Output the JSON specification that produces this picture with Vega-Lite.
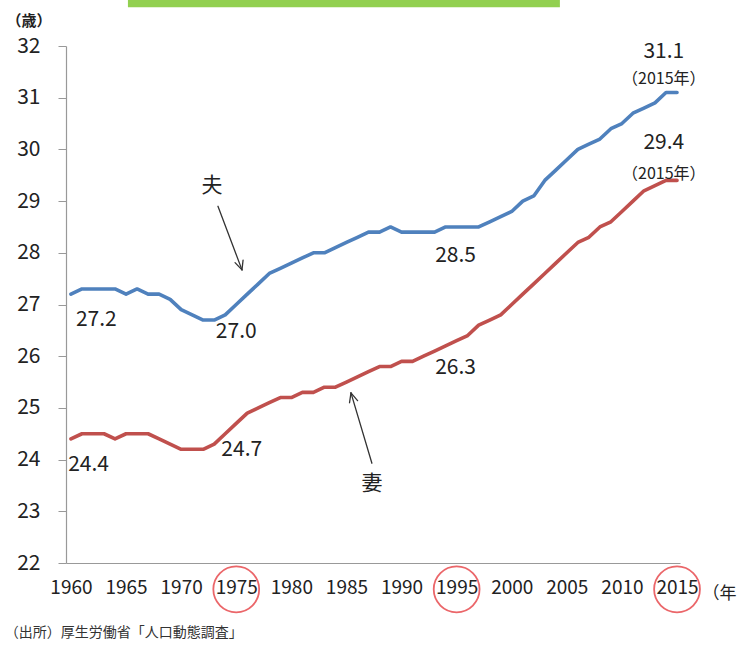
{
  "$schema": "https://vega.github.io/schema/vega-lite/v6.json",
  "width": 614,
  "height": 517,
  "autosize": "none",
  "padding": {"left": 66, "top": 46, "right": 67, "bottom": 84},
  "background": "white",
  "config": {"view": {"stroke": null}, "font": "Noto Sans CJK JP"},
  "datasets": {
    "series": [
      {"year": 1960, "who": "夫", "age": 27.2}, {"year": 1961, "who": "夫", "age": 27.3}, {"year": 1962, "who": "夫", "age": 27.3}, {"year": 1963, "who": "夫", "age": 27.3}, {"year": 1964, "who": "夫", "age": 27.3}, {"year": 1965, "who": "夫", "age": 27.2}, {"year": 1966, "who": "夫", "age": 27.3}, {"year": 1967, "who": "夫", "age": 27.2}, {"year": 1968, "who": "夫", "age": 27.2}, {"year": 1969, "who": "夫", "age": 27.1},
      {"year": 1970, "who": "夫", "age": 26.9}, {"year": 1971, "who": "夫", "age": 26.8}, {"year": 1972, "who": "夫", "age": 26.7}, {"year": 1973, "who": "夫", "age": 26.7}, {"year": 1974, "who": "夫", "age": 26.8}, {"year": 1975, "who": "夫", "age": 27.0}, {"year": 1976, "who": "夫", "age": 27.2}, {"year": 1977, "who": "夫", "age": 27.4}, {"year": 1978, "who": "夫", "age": 27.6}, {"year": 1979, "who": "夫", "age": 27.7},
      {"year": 1980, "who": "夫", "age": 27.8}, {"year": 1981, "who": "夫", "age": 27.9}, {"year": 1982, "who": "夫", "age": 28.0}, {"year": 1983, "who": "夫", "age": 28.0}, {"year": 1984, "who": "夫", "age": 28.1}, {"year": 1985, "who": "夫", "age": 28.2}, {"year": 1986, "who": "夫", "age": 28.3}, {"year": 1987, "who": "夫", "age": 28.4}, {"year": 1988, "who": "夫", "age": 28.4}, {"year": 1989, "who": "夫", "age": 28.5},
      {"year": 1990, "who": "夫", "age": 28.4}, {"year": 1991, "who": "夫", "age": 28.4}, {"year": 1992, "who": "夫", "age": 28.4}, {"year": 1993, "who": "夫", "age": 28.4}, {"year": 1994, "who": "夫", "age": 28.5}, {"year": 1995, "who": "夫", "age": 28.5}, {"year": 1996, "who": "夫", "age": 28.5}, {"year": 1997, "who": "夫", "age": 28.5}, {"year": 1998, "who": "夫", "age": 28.6}, {"year": 1999, "who": "夫", "age": 28.7},
      {"year": 2000, "who": "夫", "age": 28.8}, {"year": 2001, "who": "夫", "age": 29.0}, {"year": 2002, "who": "夫", "age": 29.1}, {"year": 2003, "who": "夫", "age": 29.4}, {"year": 2004, "who": "夫", "age": 29.6}, {"year": 2005, "who": "夫", "age": 29.8}, {"year": 2006, "who": "夫", "age": 30.0}, {"year": 2007, "who": "夫", "age": 30.1}, {"year": 2008, "who": "夫", "age": 30.2}, {"year": 2009, "who": "夫", "age": 30.4},
      {"year": 2010, "who": "夫", "age": 30.5}, {"year": 2011, "who": "夫", "age": 30.7}, {"year": 2012, "who": "夫", "age": 30.8}, {"year": 2013, "who": "夫", "age": 30.9}, {"year": 2014, "who": "夫", "age": 31.1}, {"year": 2015, "who": "夫", "age": 31.1},
      {"year": 1960, "who": "妻", "age": 24.4}, {"year": 1961, "who": "妻", "age": 24.5}, {"year": 1962, "who": "妻", "age": 24.5}, {"year": 1963, "who": "妻", "age": 24.5}, {"year": 1964, "who": "妻", "age": 24.4}, {"year": 1965, "who": "妻", "age": 24.5}, {"year": 1966, "who": "妻", "age": 24.5}, {"year": 1967, "who": "妻", "age": 24.5}, {"year": 1968, "who": "妻", "age": 24.4}, {"year": 1969, "who": "妻", "age": 24.3},
      {"year": 1970, "who": "妻", "age": 24.2}, {"year": 1971, "who": "妻", "age": 24.2}, {"year": 1972, "who": "妻", "age": 24.2}, {"year": 1973, "who": "妻", "age": 24.3}, {"year": 1974, "who": "妻", "age": 24.5}, {"year": 1975, "who": "妻", "age": 24.7}, {"year": 1976, "who": "妻", "age": 24.9}, {"year": 1977, "who": "妻", "age": 25.0}, {"year": 1978, "who": "妻", "age": 25.1}, {"year": 1979, "who": "妻", "age": 25.2},
      {"year": 1980, "who": "妻", "age": 25.2}, {"year": 1981, "who": "妻", "age": 25.3}, {"year": 1982, "who": "妻", "age": 25.3}, {"year": 1983, "who": "妻", "age": 25.4}, {"year": 1984, "who": "妻", "age": 25.4}, {"year": 1985, "who": "妻", "age": 25.5}, {"year": 1986, "who": "妻", "age": 25.6}, {"year": 1987, "who": "妻", "age": 25.7}, {"year": 1988, "who": "妻", "age": 25.8}, {"year": 1989, "who": "妻", "age": 25.8},
      {"year": 1990, "who": "妻", "age": 25.9}, {"year": 1991, "who": "妻", "age": 25.9}, {"year": 1992, "who": "妻", "age": 26.0}, {"year": 1993, "who": "妻", "age": 26.1}, {"year": 1994, "who": "妻", "age": 26.2}, {"year": 1995, "who": "妻", "age": 26.3}, {"year": 1996, "who": "妻", "age": 26.4}, {"year": 1997, "who": "妻", "age": 26.6}, {"year": 1998, "who": "妻", "age": 26.7}, {"year": 1999, "who": "妻", "age": 26.8},
      {"year": 2000, "who": "妻", "age": 27.0}, {"year": 2001, "who": "妻", "age": 27.2}, {"year": 2002, "who": "妻", "age": 27.4}, {"year": 2003, "who": "妻", "age": 27.6}, {"year": 2004, "who": "妻", "age": 27.8}, {"year": 2005, "who": "妻", "age": 28.0}, {"year": 2006, "who": "妻", "age": 28.2}, {"year": 2007, "who": "妻", "age": 28.3}, {"year": 2008, "who": "妻", "age": 28.5}, {"year": 2009, "who": "妻", "age": 28.6},
      {"year": 2010, "who": "妻", "age": 28.8}, {"year": 2011, "who": "妻", "age": 29.0}, {"year": 2012, "who": "妻", "age": 29.2}, {"year": 2013, "who": "妻", "age": 29.3}, {"year": 2014, "who": "妻", "age": 29.4}, {"year": 2015, "who": "妻", "age": 29.4}
    ],
    "labels": [
      {"x": 1962.3, "y": 26.70, "text": "27.2", "size": 21},
      {"x": 1975.0, "y": 26.47, "text": "27.0", "size": 21},
      {"x": 1994.9, "y": 27.94, "text": "28.5", "size": 21},
      {"x": 1994.9, "y": 25.78, "text": "26.3", "size": 21},
      {"x": 1961.6, "y": 23.90, "text": "24.4", "size": 21},
      {"x": 1975.5, "y": 24.19, "text": "24.7", "size": 21},
      {"x": 2013.8, "y": 31.89, "text": "31.1", "size": 21},
      {"x": 2013.8, "y": 31.36, "text": "（2015年）", "size": 16},
      {"x": 2013.8, "y": 30.12, "text": "29.4", "size": 21},
      {"x": 2013.8, "y": 29.53, "text": "（2015年）", "size": 16},
      {"x": 1972.8, "y": 29.29, "text": "夫", "size": 21},
      {"x": 1987.31, "y": 23.53, "text": "妻", "size": 21}
    ],
    "arrows": [
      {"x": 1973.34, "y": 28.90, "x2": 1975.52, "y2": 27.67},
      {"x": 1975.62, "y": 27.86, "x2": 1975.52, "y2": 27.67},
      {"x": 1974.89, "y": 27.81, "x2": 1975.52, "y2": 27.67},
      {"x": 1987.31, "y": 23.93, "x2": 1985.41, "y2": 25.29},
      {"x": 1985.28, "y": 25.10, "x2": 1985.41, "y2": 25.29},
      {"x": 1986.01, "y": 25.14, "x2": 1985.41, "y2": 25.29}
    ],
    "circles": [
      {"x": 1975, "y": 21.49},
      {"x": 1995, "y": 21.49},
      {"x": 2015, "y": 21.49}
    ],
    "source": [
      {"x": 1954.0, "y": 20.65, "text": "（出所）厚生労働省「人口動態調査」"}
    ],
    "banner": [
      {"x": 1965.17, "x2": 2004.37, "y": 32.75, "y2": 33.2}
    ]
  },
  "layer": [
    {
      "data": {"name": "banner"},
      "mark": {"type": "rect", "color": "#92D050"},
      "encoding": {
        "x": {"field": "x", "type": "quantitative", "scale": {"domain": [1959.55, 2015.27], "nice": false, "zero": false}},
        "x2": {"field": "x2"},
        "y": {"field": "y", "type": "quantitative", "scale": {"domain": [22, 32], "nice": false, "zero": false}},
        "y2": {"field": "y2"}
      }
    },
    {
      "data": {"name": "series"},
      "mark": {"type": "line", "strokeWidth": 3.6, "strokeJoin": "round", "strokeCap": "round"},
      "encoding": {
        "x": {
          "field": "year", "type": "quantitative",
          "scale": {"domain": [1959.55, 2015.27], "nice": false, "zero": false},
          "axis": {
            "values": [1960, 1965, 1970, 1975, 1980, 1985, 1990, 1995, 2000, 2005, 2010, 2015],
            "format": "d", "grid": false, "ticks": false, "labelPadding": 15,
            "labelFontSize": 19, "labelColor": "#222", "domainColor": "#999", "domainWidth": 1.2,
            "title": "（年", "titleAngle": 0, "titleAlign": "left", "titleX": 636, "titleY": 30,
            "titleBaseline": "middle", "titleFontSize": 17, "titleFontWeight": "normal", "titleColor": "#222"
          }
        },
        "y": {
          "field": "age", "type": "quantitative",
          "scale": {"domain": [22, 32], "nice": false, "zero": false},
          "axis": {
            "values": [22, 23, 24, 25, 26, 27, 28, 29, 30, 31, 32],
            "grid": false, "tickSize": 8, "tickColor": "#999", "labelPadding": 18,
            "labelFontSize": 21, "labelColor": "#222", "domainColor": "#999", "domainWidth": 1.2,
            "title": "（歳）", "titleAngle": 0, "titleAlign": "left", "titleX": -60, "titleY": -26,
            "titleBaseline": "middle", "titleFontSize": 15, "titleFontWeight": "bold", "titleColor": "#222"
          }
        },
        "color": {
          "field": "who", "type": "nominal",
          "scale": {"domain": ["夫", "妻"], "range": ["#4F81BD", "#C0504D"]},
          "legend": null
        }
      }
    },
    {
      "data": {"name": "arrows"},
      "mark": {"type": "rule", "color": "#333", "strokeWidth": 1.3, "strokeCap": "round"},
      "encoding": {
        "x": {"field": "x", "type": "quantitative"},
        "y": {"field": "y", "type": "quantitative"},
        "x2": {"field": "x2"},
        "y2": {"field": "y2"}
      }
    },
    {
      "data": {"name": "circles"},
      "mark": {"type": "point", "shape": "circle", "filled": false, "color": "#E3262B", "strokeWidth": 1.8, "size": 2100},
      "encoding": {
        "x": {"field": "x", "type": "quantitative"},
        "y": {"field": "y", "type": "quantitative"}
      }
    },
    {
      "data": {"name": "labels"},
      "mark": {"type": "text", "color": "#222", "baseline": "middle", "align": "center"},
      "encoding": {
        "x": {"field": "x", "type": "quantitative"},
        "y": {"field": "y", "type": "quantitative"},
        "text": {"field": "text"},
        "size": {"field": "size", "type": "quantitative", "scale": null}
      }
    },
    {
      "data": {"name": "source"},
      "mark": {"type": "text", "color": "#333", "baseline": "middle", "align": "left", "fontSize": 14},
      "encoding": {
        "x": {"field": "x", "type": "quantitative"},
        "y": {"field": "y", "type": "quantitative"},
        "text": {"field": "text"}
      }
    }
  ]
}
